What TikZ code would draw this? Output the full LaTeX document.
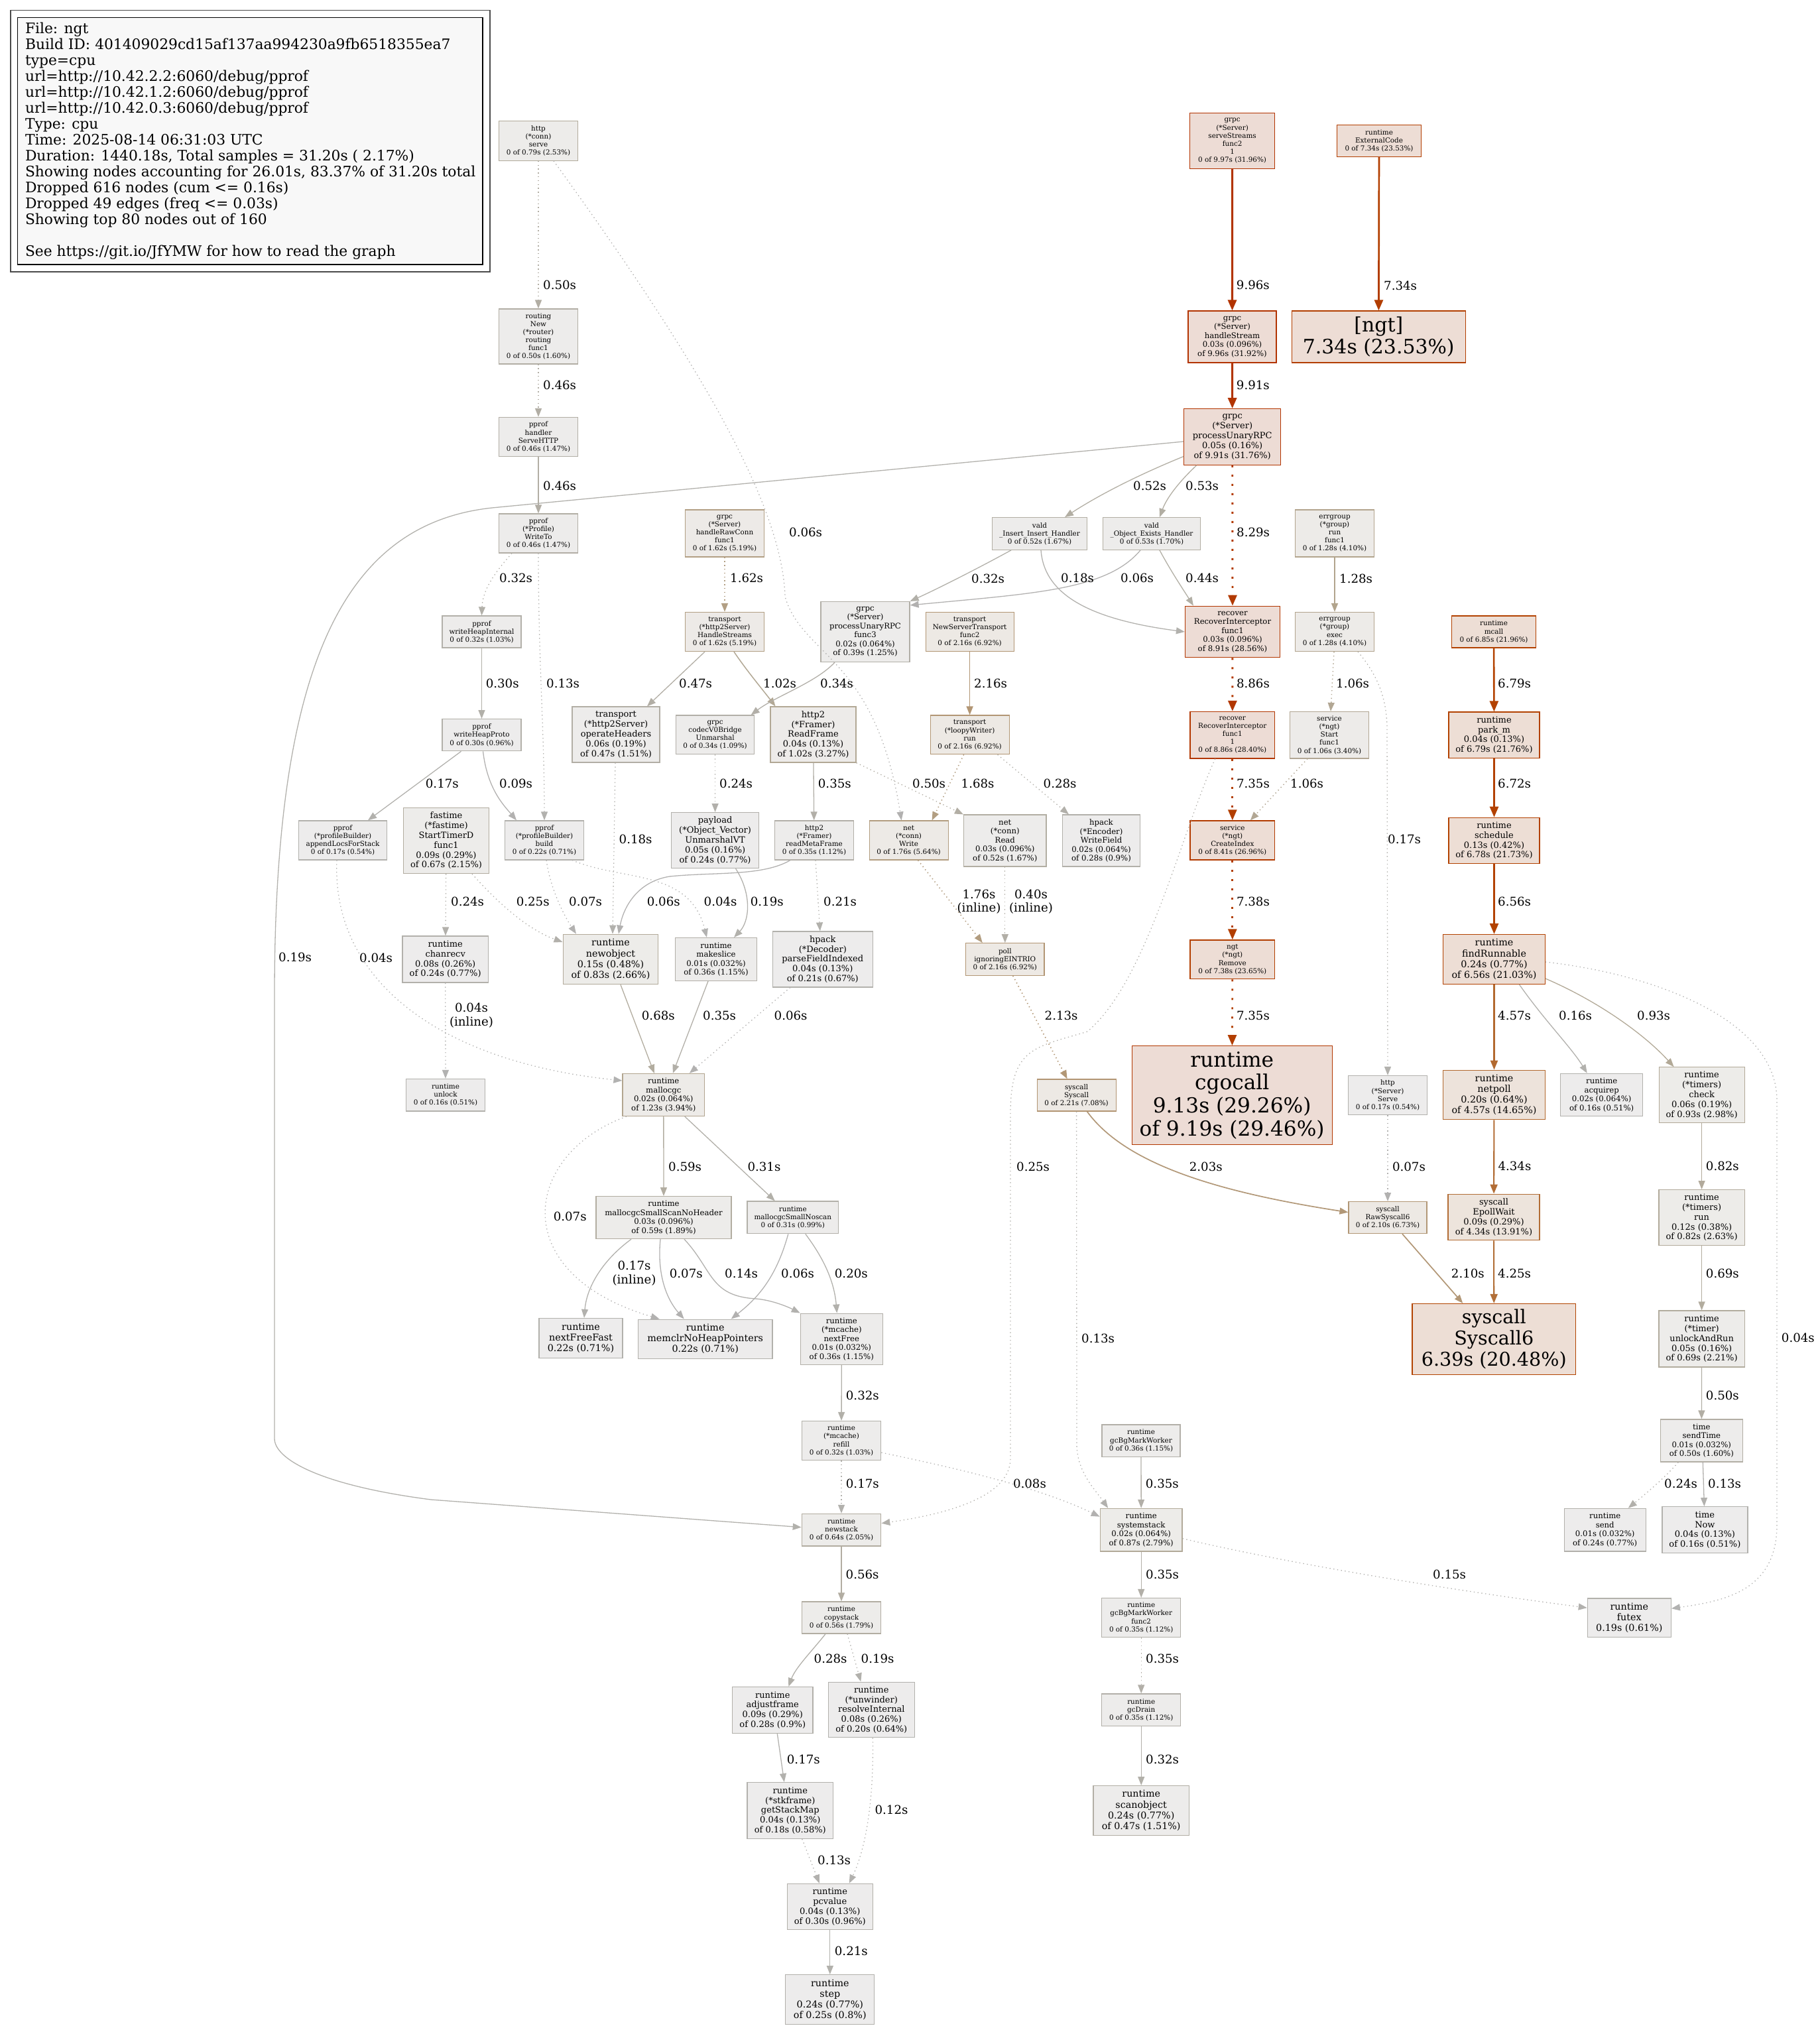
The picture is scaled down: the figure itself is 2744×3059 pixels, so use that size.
\documentclass[tikz,border=0pt]{standalone}
\usepackage{fontspec}
\setmainfont{DejaVu Serif}
\usetikzlibrary{arrows.meta}
\newcommand\fsA{\fontsize{10.4pt}{12.15pt}\selectfont}
\newcommand\fsB{\fontsize{11.7pt}{13.5pt}\selectfont}
\newcommand\fsC{\fontsize{13pt}{14.8pt}\selectfont}
\newcommand\fsD{\fontsize{14.3pt}{16.2pt}\selectfont}
\newcommand\fsE{\fontsize{28.6pt}{32.1pt}\selectfont}
\newcommand\fsF{\fontsize{29.9pt}{33.8pt}\selectfont}
\newcommand\fsG{\fontsize{31.2pt}{34.6pt}\selectfont}
\newcommand\fsL{\fontsize{18.2pt}{20.5pt}\selectfont}
\newcommand\fsK{\fontsize{21.8pt}{24pt}\selectfont}
% border / edge colours
\definecolor{hA}{HTML}{B23300}\definecolor{hA2}{HTML}{B23400}\definecolor{hB}{HTML}{B23700}
\definecolor{hC}{HTML}{B23A00}\definecolor{hD}{HTML}{B23E00}\definecolor{hE}{HTML}{B24100}
\definecolor{hF}{HTML}{B24200}\definecolor{hG}{HTML}{B24300}
\definecolor{nP}{HTML}{B2692F}\definecolor{nE}{HTML}{B26D36}\definecolor{nE2}{HTML}{B26F38}
\definecolor{w1}{HTML}{B29674}\definecolor{w2}{HTML}{B29775}\definecolor{w3}{HTML}{B29776}
\definecolor{w4}{HTML}{B29878}\definecolor{w5}{HTML}{B29573}\definecolor{w6}{HTML}{B29D80}
\definecolor{w7}{HTML}{B29E82}\definecolor{w8}{HTML}{B29F84}
\definecolor{g1}{HTML}{B2A48D}\definecolor{g2}{HTML}{B2A58F}\definecolor{g3}{HTML}{B2A794}
\definecolor{g4}{HTML}{B2A895}\definecolor{g5}{HTML}{B2A997}\definecolor{g6}{HTML}{B2AA99}
\definecolor{g7}{HTML}{B2AA9A}\definecolor{g8}{HTML}{B2AA9B}\definecolor{g9}{HTML}{B2AB9B}
\definecolor{g10}{HTML}{B2AC9E}\definecolor{g11}{HTML}{B2AC9F}\definecolor{g12}{HTML}{B2ACA0}
\definecolor{g13}{HTML}{B2ADA1}\definecolor{g14}{HTML}{B2ADA2}\definecolor{g15}{HTML}{B2AEA3}
\definecolor{g16}{HTML}{B2AEA4}\definecolor{g17}{HTML}{B2AEA5}\definecolor{g18}{HTML}{B2AFA5}
\definecolor{g19}{HTML}{B2AFA7}\definecolor{g20}{HTML}{B2AFA8}\definecolor{g21}{HTML}{B2B0A9}
\definecolor{g22}{HTML}{B2B0AA}\definecolor{g23}{HTML}{B2B0AB}\definecolor{g24}{HTML}{B2B1AC}
\definecolor{g25}{HTML}{B2B1AD}\definecolor{g26}{HTML}{B2B1AE}\definecolor{g27}{HTML}{B2B1B0}
\definecolor{g28}{HTML}{B2B2B1}
% fill colours
\definecolor{bA}{HTML}{EDDCD5}\definecolor{bB}{HTML}{EDDDD5}\definecolor{bC}{HTML}{EDDED5}
\definecolor{bP}{HTML}{EDE3DB}\definecolor{bE}{HTML}{EDE4DC}\definecolor{bW}{HTML}{EDE9E4}
\definecolor{bW2}{HTML}{EDEAE6}\definecolor{bW3}{HTML}{EDEAE7}\definecolor{bG1}{HTML}{EDEBE8}
\definecolor{bG2}{HTML}{EDEBE9}\definecolor{bG3}{HTML}{EDECE9}\definecolor{bG4}{HTML}{EDECEA}
\definecolor{bG5}{HTML}{EDECEB}\definecolor{bG6}{HTML}{EDECEC}\definecolor{lgf}{HTML}{F8F8F8}
\definecolor{lgo}{HTML}{4A4A4A}
\tikzset{
 gn/.style={draw, rectangle, line width=1.2pt, inner sep=0pt, align=center},
 lb/.style={font=\fsL, inner sep=0pt, anchor=west, text=black},
 lbc/.style={font=\fsL, inner sep=0pt, align=center, text=black},
 ar/.style={-{Triangle[length=13pt,width=10pt]}, line width=1.3pt},
 arM/.style={-{Triangle[length=14pt,width=11pt]}},
 arT/.style={-{Triangle[length=16pt,width=13pt]}},
 dotd/.style={dash pattern=on 1.4pt off 4.4pt},
 dotD/.style={dash pattern=on 3pt off 11pt},
}
\newcommand\gnd[8]{\node[gn,font=#1,minimum width=#2pt,minimum height=#3pt,draw=#4,fill=#5] (#6) at (#7) {#8};}
\newcommand\elab[3]{\node[lb] (#1) at (#2) {#3};}
\newcommand\elabc[3]{\node[lbc] (#1) at (#2) {#3};}
\begin{document}
\begin{tikzpicture}[x=1pt,y=-1pt]
\useasboundingbox (0,0) rectangle (2744,3059);
% legend
\node[draw=lgo, line width=1.3pt, minimum width=723pt, minimum height=394.3pt, inner sep=0pt] (legendouter) at (377.5,212.85) {};
\node[draw=black, fill=lgf, line width=1.3pt, minimum width=701.3pt, minimum height=372.3pt, inner sep=0pt] (legendbox) at (377.35,212.85) {};
\node[font=\fsK, align=left, anchor=north west, inner sep=0pt] (legendtext) at (37.8,34.2) {File: ngt\\Build ID: 401409029cd15af137aa994230a9fb6518355ea7\\type=cpu\\url=http://10.42.2.2:6060/debug/pprof\\url=http://10.42.1.2:6060/debug/pprof\\url=http://10.42.0.3:6060/debug/pprof\\Type: cpu\\Time: 2025-08-14 06:31:03 UTC\\Duration: 1440.18s, Total samples = 31.20s ( 2.17\%)\\Showing nodes accounting for 26.01s, 83.37\% of 31.20s total\\Dropped 616 nodes (cum <= 0.16s)\\Dropped 49 edges (freq <= 0.03s)\\Showing top 80 nodes out of 160\\[24pt]See https://git.io/JfYMW for how to read the graph};
% nodes
\gnd{\fsA}{119}{59.4}{g9}{bG4}{httpconn}{812,212.4}{http\\(*conn)\\serve\\0 of 0.79s (2.53\%)}
\gnd{\fsA}{119}{83}{g16}{bG5}{routing}{812,507.5}{routing\\New\\(*router)\\routing\\func1\\0 of 0.50s (1.60\%)}
\gnd{\fsA}{119}{59}{g17}{bG5}{handler}{812,659}{pprof\\handler\\ServeHTTP\\0 of 0.46s (1.47\%)}
\gnd{\fsA}{119}{59}{g17}{bG5}{writeto}{812,804.5}{pprof\\(*Profile)\\WriteTo\\0 of 0.46s (1.47\%)}
\gnd{\fsA}{119}{71}{w8}{bW3}{rawconn}{1093,804.4}{grpc\\(*Server)\\handleRawConn\\func1\\0 of 1.62s (5.19\%)}
\gnd{\fsA}{128}{84}{hA}{bA}{serveStreams}{1858.6,212.4}{grpc\\(*Server)\\serveStreams\\func2\\1\\0 of 9.97s (31.96\%)}
\gnd{\fsB}{133}{78}{hA}{bA}{handleStream}{1858.5,508}{grpc\\(*Server)\\handleStream\\0.03s (0.096\%)\\of 9.96s (31.92\%)}
\gnd{\fsC}{146}{84.5}{hA2}{bA}{processUnaryRPC}{1858.7,659}{grpc\\(*Server)\\processUnaryRPC\\0.05s (0.16\%)\\of 9.91s (31.76\%)}
\gnd{\fsA}{143}{48.6}{g15}{bG5}{insert}{1568,805}{vald\\\_Insert\_Insert\_Handler\\0 of 0.52s (1.67\%)}
\gnd{\fsA}{147}{48.6}{g15}{bG5}{exists}{1737,805}{vald\\\_Object\_Exists\_Handler\\0 of 0.53s (1.70\%)}
\gnd{\fsA}{127}{48}{hD}{bB}{externalCode}{2080,212.5}{runtime\\ExternalCode\\0 of 7.34s (23.53\%)}
\gnd{\fsF}{261.6}{78}{hD}{bB}{ngtbox}{2079.3,508}{[ngt]\\7.34s (23.53\%)}
\gnd{\fsA}{118.5}{71}{g1}{bG1}{errgroupRun}{2013,804.5}{errgroup\\(*group)\\run\\func1\\0 of 1.28s (4.10\%)}
\gnd{\fsA}{118.5}{59}{g1}{bG1}{errgroupExec}{2013,953}{errgroup\\(*group)\\exec\\0 of 1.28s (4.10\%)}
\gnd{\fsA}{127}{48}{hE}{bC}{mcall}{2253,953}{runtime\\mcall\\0 of 6.85s (21.96\%)}
\gnd{\fsA}{119}{48}{g21}{bG5}{writeHeapInternal}{726.5,953}{pprof\\writeHeapInternal\\0 of 0.32s (1.03\%)}
\gnd{\fsA}{119}{48}{g21}{bG6}{writeHeapProto}{726.5,1108.7}{pprof\\writeHeapProto\\0 of 0.30s (0.96\%)}
\gnd{\fsA}{133.6}{59}{g25}{bG6}{appendLocs}{517,1267.4}{pprof\\(*profileBuilder)\\appendLocsForStack\\0 of 0.17s (0.54\%)}
\gnd{\fsC}{129}{99}{g11}{bG4}{fastime}{673,1268}{fastime\\(*fastime)\\StartTimerD\\func1\\0.09s (0.29\%)\\of 0.67s (2.15\%)}
\gnd{\fsA}{118.4}{59}{g24}{bG6}{build}{821,1267.4}{pprof\\(*profileBuilder)\\build\\0 of 0.22s (0.71\%)}
\gnd{\fsC}{132}{84}{g17}{bG5}{operateHeaders}{929,1108}{transport\\(*http2Server)\\operateHeaders\\0.06s (0.19\%)\\of 0.47s (1.51\%)}
\gnd{\fsA}{118.4}{58.7}{g20}{bG5}{codec}{1078.6,1108.4}{grpc\\codecV0Bridge\\Unmarshal\\0 of 0.34s (1.09\%)}
\gnd{\fsA}{118.4}{59}{w8}{bW3}{handleStreams}{1093,953}{transport\\(*http2Server)\\HandleStreams\\0 of 1.62s (5.19\%)}
\gnd{\fsC}{129}{84}{g4}{bG2}{readFrame}{1226.5,1108}{http2\\(*Framer)\\ReadFrame\\0.04s (0.13\%)\\of 1.02s (3.27\%)}
\gnd{\fsC}{132}{84}{g23}{bG6}{payload}{1078.6,1267.6}{payload\\(*Object\_Vector)\\UnmarshalVT\\0.05s (0.16\%)\\of 0.24s (0.77\%)}
\gnd{\fsA}{118.4}{59}{g20}{bG5}{readMetaFrame}{1228,1267.4}{http2\\(*Framer)\\readMetaFrame\\0 of 0.35s (1.12\%)}
\gnd{\fsC}{129.6}{70}{g23}{bG6}{chanrecv}{671.7,1447}{runtime\\chanrecv\\0.08s (0.26\%)\\of 0.24s (0.77\%)}
\gnd{\fsD}{143.7}{75.5}{g7}{bG3}{newobject}{921,1447}{runtime\\newobject\\0.15s (0.48\%)\\of 0.83s (2.66\%)}
\gnd{\fsB}{123.5}{64.8}{g20}{bG5}{makeslice}{1080,1447}{runtime\\makeslice\\0.01s (0.032\%)\\of 0.36s (1.15\%)}
\gnd{\fsC}{151}{84}{g24}{bG6}{hpackDecoder}{1240.8,1447}{hpack\\(*Decoder)\\parseFieldIndexed\\0.04s (0.13\%)\\of 0.21s (0.67\%)}
\gnd{\fsA}{119}{48.5}{g25}{bG6}{unlock}{672,1651.7}{runtime\\unlock\\0 of 0.16s (0.51\%)}
\gnd{\fsB}{123.5}{64}{g2}{bG1}{mallocgc}{1000.8,1651.5}{runtime\\mallocgc\\0.02s (0.064\%)\\of 1.23s (3.94\%)}
\gnd{\fsB}{134}{91}{g19}{bG5}{func3}{1305,953}{grpc\\(*Server)\\processUnaryRPC\\func3\\0.02s (0.064\%)\\of 0.39s (1.25\%)}
\gnd{\fsA}{133}{59}{w1}{bW}{newServerTransport}{1462.6,953}{transport\\NewServerTransport\\func2\\0 of 2.16s (6.92\%)}
\gnd{\fsA}{119}{58.7}{w1}{bW}{loopyWriter}{1462.6,1108.4}{transport\\(*loopyWriter)\\run\\0 of 2.16s (6.92\%)}
\gnd{\fsA}{119}{59}{w6}{bW2}{netWrite}{1370.6,1267.5}{net\\(*conn)\\Write\\0 of 1.76s (5.64\%)}
\gnd{\fsB}{124.5}{78}{g15}{bG5}{netRead}{1515.8,1268}{net\\(*conn)\\Read\\0.03s (0.096\%)\\of 0.52s (1.67\%)}
\gnd{\fsB}{117}{78}{g22}{bG6}{hpackEncoder}{1661,1268}{hpack\\(*Encoder)\\WriteField\\0.02s (0.064\%)\\of 0.28s (0.9\%)}
\gnd{\fsA}{118.4}{48.5}{w1}{bW}{poll}{1515.8,1447}{poll\\ignoringEINTRIO\\0 of 2.16s (6.92\%)}
\gnd{\fsA}{119}{48}{w5}{bW}{syscallSyscall}{1623.6,1652}{syscall\\Syscall\\0 of 2.21s (7.08\%)}
\gnd{\fsB}{143}{77.5}{hB}{bA}{recover}{1859,953}{recover\\RecoverInterceptor\\func1\\0.03s (0.096\%)\\of 8.91s (28.56\%)}
\gnd{\fsA}{127.5}{70.4}{hB}{bA}{recover1}{1858.8,1108.7}{recover\\RecoverInterceptor\\func1\\1\\0 of 8.86s (28.40\%)}
\gnd{\fsA}{118.5}{70.4}{g3}{bG2}{serviceStart}{2005,1108.7}{service\\(*ngt)\\Start\\func1\\0 of 1.06s (3.40\%)}
\gnd{\fsC}{137}{69.4}{hE}{bC}{parkm}{2253.5,1108.7}{runtime\\park\_m\\0.04s (0.13\%)\\of 6.79s (21.76\%)}
\gnd{\fsA}{127.5}{59}{hC}{bB}{createIndex}{1858.8,1267.5}{service\\(*ngt)\\CreateIndex\\0 of 8.41s (26.96\%)}
\gnd{\fsC}{137}{69.4}{hE}{bC}{schedule}{2253.5,1268}{runtime\\schedule\\0.13s (0.42\%)\\of 6.78s (21.73\%)}
\gnd{\fsA}{127.5}{58.7}{hD}{bB}{ngtRemove}{1858.8,1447.3}{ngt\\(*ngt)\\Remove\\0 of 7.38s (23.65\%)}
\gnd{\fsD}{153.5}{75}{hF}{bC}{findRunnable}{2253.5,1447}{runtime\\findRunnable\\0.24s (0.77\%)\\of 6.56s (21.03\%)}
\gnd{\fsG}{302}{149}{hB}{bA}{cgocall}{1858.2,1652.2}{runtime\\cgocall\\9.13s (29.26\%)\\of 9.19s (29.46\%)}
\gnd{\fsA}{119}{59}{g25}{bG6}{httpServe}{2093,1652}{http\\(*Server)\\Serve\\0 of 0.17s (0.54\%)}
\gnd{\fsD}{153.5}{74.5}{nP}{bP}{netpoll}{2253.5,1651.5}{runtime\\netpoll\\0.20s (0.64\%)\\of 4.57s (14.65\%)}
\gnd{\fsB}{124}{64.3}{g25}{bG6}{acquirep}{2415.7,1651.5}{runtime\\acquirep\\0.02s (0.064\%)\\of 0.16s (0.51\%)}
\gnd{\fsC}{129}{84}{g5}{bG3}{timersCheck}{2566.6,1651.8}{runtime\\(*timers)\\check\\0.06s (0.19\%)\\of 0.93s (2.98\%)}
\gnd{\fsB}{204}{64}{g13}{bG4}{smallScan}{1001,1836.6}{runtime\\mallocgcSmallScanNoHeader\\0.03s (0.096\%)\\of 0.59s (1.89\%)}
\gnd{\fsA}{137.6}{48.7}{g21}{bG5}{smallNoscan}{1195.8,1836.4}{runtime\\mallocgcSmallNoscan\\0 of 0.31s (0.99\%)}
\gnd{\fsD}{126}{60}{g24}{bG6}{nextFreeFast}{876,2018.5}{runtime\\nextFreeFast\\0.22s (0.71\%)}
\gnd{\fsD}{202.7}{59}{g24}{bG6}{memclr}{1063.7,2019.6}{runtime\\memclrNoHeapPointers\\0.22s (0.71\%)}
\gnd{\fsB}{124}{77.3}{g20}{bG5}{nextFree}{1269.3,2019.8}{runtime\\(*mcache)\\nextFree\\0.01s (0.032\%)\\of 0.36s (1.15\%)}
\gnd{\fsA}{119.4}{59}{g21}{bG5}{refill}{1269,2173}{runtime\\(*mcache)\\refill\\0 of 0.32s (1.03\%)}
\gnd{\fsA}{119.4}{48.6}{g12}{bG4}{newstack}{1269,2307.7}{runtime\\newstack\\0 of 0.64s (2.05\%)}
\gnd{\fsA}{118}{48}{w3}{bW}{rawSyscall6}{2093,1836.6}{syscall\\RawSyscall6\\0 of 2.10s (6.73\%)}
\gnd{\fsC}{138}{69.6}{nE}{bE}{epollWait}{2253,1836}{syscall\\EpollWait\\0.09s (0.29\%)\\of 4.34s (13.91\%)}
\gnd{\fsE}{246.7}{106.7}{hG}{bC}{syscall6}{2253.3,2019.8}{syscall\\Syscall6\\6.39s (20.48\%)}
\gnd{\fsC}{129.4}{84}{g8}{bG3}{timersRun}{2566.6,1836.6}{runtime\\(*timers)\\run\\0.12s (0.38\%)\\of 0.82s (2.63\%)}
\gnd{\fsC}{129.4}{85}{g10}{bG4}{unlockAndRun}{2566.6,2019.5}{runtime\\(*timer)\\unlockAndRun\\0.05s (0.16\%)\\of 0.69s (2.21\%)}
\gnd{\fsB}{123.7}{64}{g16}{bG5}{sendTime}{2566.3,2173}{time\\sendTime\\0.01s (0.032\%)\\of 0.50s (1.60\%)}
\gnd{\fsB}{123}{64.7}{g23}{bG6}{send}{2420.7,2307.7}{runtime\\send\\0.01s (0.032\%)\\of 0.24s (0.77\%)}
\gnd{\fsC}{129}{70}{g25}{bG6}{timeNow}{2571.4,2307.7}{time\\Now\\0.04s (0.13\%)\\of 0.16s (0.51\%)}
\gnd{\fsA}{118}{48.2}{g20}{bG5}{gcBgMarkWorker}{1721,2173}{runtime\\gcBgMarkWorker\\0 of 0.36s (1.15\%)}
\gnd{\fsB}{123.7}{64.7}{g6}{bG3}{systemstack}{1721.2,2307.7}{runtime\\systemstack\\0.02s (0.064\%)\\of 0.87s (2.79\%)}
\gnd{\fsA}{119}{48}{g14}{bG4}{copystack}{1269,2440}{runtime\\copystack\\0 of 0.56s (1.79\%)}
\gnd{\fsC}{121.4}{69.7}{g22}{bG6}{adjustframe}{1165.3,2579.4}{runtime\\adjustframe\\0.09s (0.29\%)\\of 0.28s (0.9\%)}
\gnd{\fsC}{129.6}{83.7}{g24}{bG6}{resolveInternal}{1314.3,2579}{runtime\\(*unwinder)\\resolveInternal\\0.08s (0.26\%)\\of 0.20s (0.64\%)}
\gnd{\fsC}{129.6}{84.7}{g25}{bG6}{getStackMap}{1191.8,2731}{runtime\\(*stkframe)\\getStackMap\\0.04s (0.13\%)\\of 0.18s (0.58\%)}
\gnd{\fsC}{129}{69.3}{g21}{bG6}{pcvalue}{1251.8,2876}{runtime\\pcvalue\\0.04s (0.13\%)\\of 0.30s (0.96\%)}
\gnd{\fsD}{134}{75}{g23}{bG6}{step}{1251.8,3016.2}{runtime\\step\\0.24s (0.77\%)\\of 0.25s (0.8\%)}
\gnd{\fsA}{119}{59}{g20}{bG5}{func2}{1721.2,2440}{runtime\\gcBgMarkWorker\\func2\\0 of 0.35s (1.12\%)}
\gnd{\fsA}{119}{48.5}{g20}{bG5}{gcDrain}{1721.2,2579.3}{runtime\\gcDrain\\0 of 0.35s (1.12\%)}
\gnd{\fsD}{144.4}{75}{g17}{bG5}{scanobject}{1721.2,2731}{runtime\\scanobject\\0.24s (0.77\%)\\of 0.47s (1.51\%)}
\gnd{\fsD}{126}{58.3}{g24}{bG6}{futex}{2457.3,2440.2}{runtime\\futex\\0.19s (0.61\%)}
% edges
\draw[ar,dotd,g16] (httpconn) -- (routing);
\draw[ar,dotd,g27] ([xshift=23pt]httpconn.south) .. controls (1050,540) and (1180,760) .. (1184,900) .. controls (1210,990) and (1320,990) .. ([xshift=-11pt]netWrite.north);
\draw[ar,dotd,g17] (routing) -- (handler);
\draw[ar,g17] (handler) -- (writeto);
\draw[ar,dotd,g21] ([xshift=-40pt]writeto.south) .. controls (745,865) and (728,890) .. (writeHeapInternal.north);
\draw[ar,dotd,g26] (writeto.south) .. controls (812,1000) and (821,1100) .. (build.north);
\draw[ar,g21] (writeHeapInternal) -- (writeHeapProto);
\draw[ar,g25] ([xshift=-31pt]writeHeapProto.south) -- ([xshift=38pt]appendLocs.north);
\draw[ar,g27] ([xshift=2pt]writeHeapProto.south) .. controls (735,1190) and (760,1215) .. ([xshift=-42pt]build.north);
\draw[ar,dotd,g28] ([xshift=-9pt]appendLocs.south) .. controls (500,1470) and (650,1600) .. ([yshift=21.5pt]mallocgc.west);
\draw[ar,dotd,g23] (fastime) -- (chanrecv);
\draw[ar,dotd,g23] ([xshift=39pt]fastime.south) .. controls (740,1350) and (790,1400) .. ([yshift=26pt]newobject.west);
\draw[ar,dotd,g27] ([xshift=3pt]build.south) .. controls (830,1340) and (850,1380) .. ([xshift=-52pt]newobject.north);
\draw[ar,dotd,g28] ([xshift=42pt]build.south) .. controls (940,1330) and (1040,1310) .. ([xshift=-14pt]makeslice.north);
\draw[ar,dotd,g28] (chanrecv) -- (unlock);
\draw[ar,dotd,g25] ([xshift=-1pt]operateHeaders.south) -- ([xshift=3pt]newobject.north);
\draw[ar,dotd,g23] (codec) -- (payload);
\draw[ar,g24] ([xshift=31pt]payload.south) .. controls (1135,1350) and (1130,1390) .. ([xshift=27pt]makeslice.north);
\draw[ar,g17] ([xshift=-30pt]handleStreams.south) -- ([xshift=47pt]operateHeaders.north);
\draw[ar,g4,line width=1.5pt] ([xshift=14pt]handleStreams.south) .. controls (1125,1010) and (1150,1040) .. ([xshift=-57pt]readFrame.north);
\draw[ar,dotd,w8,line width=1.6pt] (rawconn) -- (handleStreams);
\draw[ar,g20] ([xshift=-46pt]func3.south) .. controls (1230,1030) and (1170,1050) .. ([xshift=54pt]codec.north);
\draw[ar,g20] (readFrame) -- (readMetaFrame);
\draw[ar,dotd,g16] (readFrame.south east) -- (netRead.north west);
\draw[ar,dotd,g24] ([xshift=2pt]readMetaFrame.south) -- ([xshift=-4pt]hpackDecoder.north);
\draw[ar,g27] ([xshift=-36pt]readMetaFrame.south) .. controls (1150,1322) and (1080,1315) .. (1010,1322) .. controls (960,1330) and (940,1370) .. ([xshift=12pt]newobject.north);
\draw[ar,g11] ([xshift=15pt]newobject.south) -- ([xshift=-14pt]mallocgc.north);
\draw[ar,g20] ([xshift=-12pt]makeslice.south) -- ([xshift=14pt]mallocgc.north);
\draw[ar,dotd,g27] ([xshift=-49pt]hpackDecoder.south) -- ([xshift=39pt]mallocgc.north);
\draw[ar,g13] (mallocgc) -- (smallScan);
\draw[ar,g21] ([xshift=32pt]mallocgc.south) -- ([xshift=-27pt]smallNoscan.north);
\draw[ar,dotd,g27] ([xshift=-56pt]mallocgc.south) .. controls (790,1740) and (760,1920) .. ([xshift=-69pt]memclr.north);
\draw[ar,g25] ([xshift=-49pt]smallScan.south) .. controls (910,1900) and (885,1940) .. ([xshift=5pt]nextFreeFast.north);
\draw[ar,g27] ([xshift=-5pt]smallScan.south) .. controls (990,1930) and (1010,1965) .. ([xshift=-32pt]memclr.north);
\draw[ar,g26] ([xshift=31pt]smallScan.south) .. controls (1075,1915) and (1070,1955) .. (1140,1959) .. controls (1165,1961) and (1190,1972) .. (nextFree.north west);
\draw[ar,g27] ([xshift=-7pt]smallNoscan.south) .. controls (1170,1930) and (1140,1960) .. ([xshift=39pt]memclr.north);
\draw[ar,g24] ([xshift=19pt]smallNoscan.south) .. controls (1240,1895) and (1258,1930) .. ([xshift=-7pt]nextFree.north);
\draw[ar,g21] (nextFree) -- (refill);
\draw[ar,dotd,g25] (refill) -- (newstack);
\draw[ar,dotd,g27] ([yshift=-18pt]refill.east) .. controls (1420,2210) and (1560,2240) .. ([yshift=20pt]systemstack.west);
\draw[ar,g24] ([yshift=-7pt]processUnaryRPC.west) -- (742,766) .. controls (520,790) and (414,1000) .. (414,1500) -- (414,2170) .. controls (414,2200) and (480,2240) .. (650,2262) -- ([yshift=4pt]newstack.west);
\draw[ar,dotd,g23] ([xshift=-26pt]recover1.south) .. controls (1780,1260) and (1730,1480) .. (1640,1556) .. controls (1560,1580) and (1524,1580) .. (1524,1680) -- (1524,2200) .. controls (1524,2260) and (1420,2285) .. ([yshift=10pt]newstack.east);
\draw[ar,g14] (newstack) -- (copystack);
\draw[ar,g22] ([xshift=-24pt]copystack.south) .. controls (1225,2490) and (1200,2515) .. ([xshift=24pt]adjustframe.north);
\draw[ar,dotd,g24] ([xshift=9pt]copystack.south) -- ([xshift=-16pt]resolveInternal.north);
\draw[ar,g25] ([xshift=7pt]adjustframe.south) -- ([xshift=-9pt]getStackMap.north);
\draw[ar,dotd,g26] ([xshift=18pt]getStackMap.south) -- ([xshift=-16pt]pcvalue.north);
\draw[ar,dotd,g26] ([xshift=2pt]resolveInternal.south) .. controls (1318,2720) and (1305,2790) .. ([xshift=29pt]pcvalue.north);
\draw[ar,g24] (pcvalue) -- (step);
\draw[ar,arT,hA,line width=3.1pt] (serveStreams) -- (handleStream);
\draw[ar,arT,hA2,line width=3.1pt] (handleStream) -- (processUnaryRPC);
\draw[ar,g15] ([yshift=-29.5pt]processUnaryRPC.west) .. controls (1720,715) and (1660,745) .. ([xshift=38pt]insert.north);
\draw[ar,g15] ([xshift=-54pt]processUnaryRPC.south) .. controls (1780,725) and (1760,750) .. ([xshift=12pt]exists.north);
\draw[ar,arT,dotD,hC,line width=2.9pt] (processUnaryRPC) -- (recover);
\draw[ar,g21] ([xshift=-43pt]insert.south) .. controls (1470,860) and (1410,890) .. (func3.north east);
\draw[ar,g25] ([xshift=2pt]insert.south) .. controls (1575,900) and (1650,935) .. (recover.west);
\draw[ar,g27] ([xshift=-17pt]exists.south) .. controls (1670,890) and (1560,895) .. ([yshift=-6pt]func3.north east);
\draw[ar,g18] ([xshift=12pt]exists.south) .. controls (1765,860) and (1785,890) .. ([xshift=-59pt]recover.north);
\draw[ar,arT,dotD,hB,line width=3pt] (recover) -- (recover1);
\draw[ar,arT,dotD,hD,line width=2.7pt] (recover1) -- (createIndex);
\draw[ar,arT,dotD,hD,line width=2.7pt] (createIndex) -- (ngtRemove);
\draw[ar,arT,dotD,hD,line width=2.7pt] (ngtRemove) -- (cgocall);
\draw[ar,arT,hD,line width=2.7pt] (externalCode) -- (ngtbox);
\draw[ar,g1,line width=1.55pt] (errgroupRun) -- (errgroupExec);
\draw[ar,dotd,g3,line width=1.5pt] ([xshift=-1pt]errgroupExec.south) -- ([xshift=2pt]serviceStart.north);
\draw[ar,dotd,g25] ([xshift=35pt]errgroupExec.south) .. controls (2075,1015) and (2092,1050) .. (2092,1100) -- (httpServe.north);
\draw[ar,dotd,g3,line width=1.5pt] ([xshift=-33pt]serviceStart.south) -- ([xshift=27pt]createIndex.north);
\draw[ar,w1,line width=1.7pt] (newServerTransport) -- (loopyWriter);
\draw[ar,dotd,w7,line width=1.6pt] ([xshift=-9pt]loopyWriter.south) -- ([xshift=35pt]netWrite.north);
\draw[ar,dotd,g22] ([xshift=42pt]loopyWriter.south) -- ([xshift=-49pt]hpackEncoder.north);
\draw[ar,dotd,w6,line width=1.6pt] ([xshift=14pt]netWrite.south) -- ([xshift=-34pt]poll.north);
\draw[ar,dotd,g19] (netRead) -- (poll);
\draw[ar,dotd,w2,line width=1.7pt] ([xshift=12pt]poll.south) -- ([xshift=-14pt]syscallSyscall.north);
\draw[ar,w4,line width=1.7pt] ([xshift=16pt]syscallSyscall.south) .. controls (1700,1760) and (1850,1800) .. ([yshift=8pt]rawSyscall6.west);
\draw[ar,dotd,g26] (syscallSyscall.south) -- (1624,2180) .. controls (1625,2220) and (1650,2245) .. ([xshift=-50pt]systemstack.north);
\draw[ar,dotd,g27] (httpServe) -- (rawSyscall6);
\draw[ar,w3,line width=1.7pt] ([xshift=22pt]rawSyscall6.south) -- ([xshift=-47pt]syscall6.north);
\draw[ar,arT,hE,line width=2.6pt] (mcall) -- (parkm);
\draw[ar,arT,hE,line width=2.6pt] (parkm) -- (schedule);
\draw[ar,arT,hF,line width=2.55pt] (schedule) -- (findRunnable);
\draw[ar,arM,nP,line width=2.15pt] (findRunnable) -- (netpoll);
\draw[ar,g25] ([xshift=38pt]findRunnable.south) .. controls (2330,1540) and (2370,1580) .. ([xshift=-22pt]acquirep.north);
\draw[ar,g5] ([yshift=-29pt]findRunnable.east) .. controls (2410,1510) and (2480,1560) .. ([xshift=-42pt]timersCheck.north);
\draw[ar,dotd,g28] ([yshift=-4pt]findRunnable.east) .. controls (2500,1470) and (2680,1540) .. (2680,1660) -- (2680,2300) .. controls (2680,2400) and (2600,2415) .. ([yshift=14pt]futex.east);
\draw[ar,arM,nE,line width=2.1pt] (netpoll) -- (epollWait);
\draw[ar,arM,nE2,line width=2.1pt] (epollWait) -- (syscall6);
\draw[ar,g8] (timersCheck) -- (timersRun);
\draw[ar,g10] (timersRun) -- (unlockAndRun);
\draw[ar,g16] (unlockAndRun) -- (sendTime);
\draw[ar,dotd,g23] ([xshift=-35pt]sendTime.south) .. controls (2510,2230) and (2480,2255) .. ([xshift=35pt]send.north);
\draw[ar,g26] ([xshift=2pt]sendTime.south) -- ([xshift=-1pt]timeNow.north);
\draw[ar,g20] (gcBgMarkWorker) -- (systemstack);
\draw[ar,g20] (systemstack) -- (func2);
\draw[ar,dotd,g26] ([yshift=-13pt]systemstack.east) .. controls (1950,2360) and (2200,2400) .. ([yshift=15pt]futex.west);
\draw[ar,dotd,g20] (func2) -- (gcDrain);
\draw[ar,g21] (gcDrain) -- (scanobject);
% edge labels
\elab{l1}{819,430}{0.50s}
\elab{l2}{1190,803}{0.06s}
\elab{l3}{819,581}{0.46s}
\elab{l4}{819,733}{0.46s}
\elab{l5}{753,872}{0.32s}
\elab{l6}{824,1031}{0.13s}
\elab{l7}{732.6,1031}{0.30s}
\elab{l8}{641.7,1182}{0.17s}
\elab{l9}{753,1182}{0.09s}
\elab{l10}{542,1445}{0.04s}
\elab{l11}{680,1360}{0.24s}
\elab{l12}{778.6,1360}{0.25s}
\elab{l13}{858,1360}{0.07s}
\elab{l14}{1061.5,1360}{0.04s}
\elabc{l15}{711,1531.5}{0.04s\\(inline)}
\elab{l16}{933.5,1266}{0.18s}
\elab{l17}{1085,1182}{0.24s}
\elab{l18}{1131.6,1360}{0.19s}
\elab{l19}{1024,1031}{0.47s}
\elab{l20}{1151,1031}{1.02s}
\elab{l21}{1101,872}{1.62s}
\elab{l22}{1237,1031}{0.34s}
\elab{l23}{1233.7,1182}{0.35s}
\elab{l24}{1376,1182}{0.50s}
\elab{l25}{1242,1360}{0.21s}
\elab{l26}{975.6,1360}{0.06s}
\elab{l27}{967.7,1531.6}{0.68s}
\elab{l28}{1060,1532}{0.35s}
\elab{l29}{1167.5,1532}{0.06s}
\elab{l30}{1008,1759.4}{0.59s}
\elab{l31}{1127.3,1759.4}{0.31s}
\elab{l32}{834.6,1835}{0.07s}
\elabc{l33}{956.5,1920.8}{0.17s\\(inline)}
\elab{l34}{1009.6,1920.5}{0.07s}
\elab{l35}{1093,1920.5}{0.14s}
\elab{l36}{1178,1920.5}{0.06s}
\elab{l37}{1258.7,1920.5}{0.20s}
\elab{l38}{1275.7,2105}{0.32s}
\elab{l39}{1275.7,2237.6}{0.17s}
\elab{l40}{1527.8,2237.5}{0.08s}
\elab{l41}{420,1444}{0.19s}
\elab{l42}{1533,1759.4}{0.25s}
\elab{l43}{1275.5,2375}{0.56s}
\elab{l44}{1227.5,2501.4}{0.28s}
\elab{l45}{1298.5,2501.4}{0.19s}
\elab{l46}{1186.7,2654}{0.17s}
\elab{l47}{1233,2806}{0.13s}
\elab{l48}{1319.4,2730}{0.12s}
\elab{l49}{1258.7,2943}{0.21s}
\elab{l50}{1864.7,430}{9.96s}
\elab{l51}{1864.7,581}{9.91s}
\elab{l52}{1709,733}{0.52s}
\elab{l53}{1788,733}{0.53s}
\elab{l54}{1865,803}{8.29s}
\elab{l55}{1465,872.6}{0.32s}
\elab{l56}{1600,872}{0.18s}
\elab{l57}{1690,872}{0.06s}
\elab{l58}{1788,872}{0.44s}
\elab{l59}{1864.8,1031}{8.86s}
\elab{l60}{1864.8,1182}{7.35s}
\elab{l61}{1864.8,1360}{7.38s}
\elab{l62}{1864.8,1531.6}{7.35s}
\elab{l63}{2087,431}{7.34s}
\elab{l64}{2020,872.5}{1.28s}
\elab{l65}{2015,1031}{1.06s}
\elab{l66}{2093,1266}{0.17s}
\elab{l67}{1946,1182}{1.06s}
\elab{l68}{1469,1031}{2.16s}
\elab{l69}{1449.5,1182}{1.68s}
\elab{l70}{1573.5,1182}{0.28s}
\elabc{l71}{1476.5,1360}{1.76s\\(inline)}
\elabc{l72}{1555,1360}{0.40s\\(inline)}
\elab{l73}{1575.5,1531.6}{2.13s}
\elab{l74}{1793.6,1759.4}{2.03s}
\elab{l75}{1631,2018.7}{0.13s}
\elab{l76}{2099.8,1759.4}{0.07s}
\elab{l77}{2188.7,1921}{2.10s}
\elab{l78}{2259,1031}{6.79s}
\elab{l79}{2259,1182}{6.72s}
\elab{l80}{2259,1360}{6.56s}
\elab{l81}{2259,1532}{4.57s}
\elab{l82}{2351,1532}{0.16s}
\elab{l83}{2469,1532}{0.93s}
\elab{l84}{2686.7,2018}{0.04s}
\elab{l85}{2259.3,1759}{4.34s}
\elab{l86}{2259,1921}{4.25s}
\elab{l87}{2572.7,1759}{0.82s}
\elab{l88}{2572.7,1921}{0.69s}
\elab{l89}{2572.7,2105}{0.50s}
\elab{l90}{2510,2237.5}{0.24s}
\elab{l91}{2576,2237.5}{0.13s}
\elab{l92}{1727.7,2237.5}{0.35s}
\elab{l93}{1728,2375}{0.35s}
\elab{l94}{2161,2374.5}{0.15s}
\elab{l95}{1728,2501.4}{0.35s}
\elab{l96}{1728,2654}{0.32s}
\end{tikzpicture}
\end{document}
